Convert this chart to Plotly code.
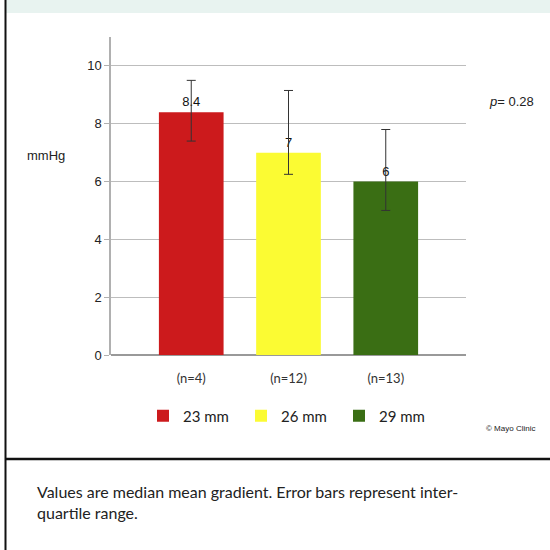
import plotly.graph_objects as go

# Valve size groups and their median mean gradients (mmHg)
sizes = ["23 mm", "26 mm", "29 mm"]
group_labels = ["(n=4)", "(n=12)", "(n=13)"]
medians = [8.4, 7, 6]
q3 = [9.5, 9.15, 7.8]
q1 = [7.4, 6.25, 5.0]
colors = ["#cc1a1c", "#fbfb33", "#3a6e14"]
y_ticks = [0, 2, 4, 6, 8, 10]

W, H = 550, 550
L, R, T, B = 111, 84, 37, 195
PW, PH = W - L - R, H - T - B


def px(xp):
    return (xp - L) / PW


def py(yp):
    return (H - B - yp) / PH


fig = go.Figure()
for i, (name, m, hi, lo, c) in enumerate(zip(sizes, medians, q3, q1, colors)):
    fig.add_trace(go.Bar(
        x=[i], y=[m], name=name,
        marker=dict(color=c, line=dict(width=0)),
        width=0.665,
        text=[m], texttemplate="%{y}", textposition="outside",
        textfont=dict(family="Liberation Sans, Arial", size=13, color="#111"),
        cliponaxis=False,
        error_y=dict(type="data", symmetric=False,
                     array=[hi - m], arrayminus=[m - lo],
                     color="#333", thickness=1, width=4.5),
    ))

fig.update_layout(
    width=W, height=H,
    margin=dict(l=L, r=R, t=T, b=B),
    paper_bgcolor="white", plot_bgcolor="white",
    barmode="overlay",
    font=dict(family="Liberation Sans, Arial", size=12, color="#222"),
    xaxis=dict(
        range=[-0.825, 2.825], tickmode="array",
        tickvals=[0, 1, 2], ticktext=group_labels,
        showgrid=False, showline=False, zeroline=False, ticks="",
        tickfont=dict(family="Lato", size=13, color="#333"),
        ticklabelstandoff=14,
    ),
    yaxis=dict(
        range=[0, 11], tickvals=y_ticks,
        showgrid=True, gridcolor="#bdbdbd", gridwidth=1,
        showline=True, linecolor="#b0b0b0", linewidth=1.5,
        zeroline=True, zerolinecolor="#999", zerolinewidth=1.5,
        ticks="outside", ticklen=5, tickcolor="#b0b0b0",
        tickfont=dict(family="Liberation Sans, Arial", size=13, color="#222"),
    ),
    showlegend=True,
    legend=dict(
        orientation="h", x=px(143), xanchor="left",
        y=py(416), yanchor="middle",
        font=dict(family="Lato", size=15, color="#222"),
        entrywidth=53, itemclick=False,
        bgcolor="rgba(0,0,0,0)",
    ),
)

shapes = [
    # light band at the top
    dict(type="rect", xref="paper", yref="paper",
         x0=px(6), x1=px(551), y0=py(13), y1=py(-1),
         fillcolor="#e8f3f0", line=dict(width=0), layer="below"),
    # left frame border
    dict(type="line", xref="paper", yref="paper",
         x0=px(5.5), x1=px(5.5), y0=py(-2), y1=py(552),
         line=dict(color="#111", width=2)),
    # divider above the footnote
    dict(type="line", xref="paper", yref="paper",
         x0=px(5), x1=px(552), y0=py(459), y1=py(459),
         line=dict(color="#111", width=2.5)),
]
fig.update_layout(shapes=shapes)

annotations = [
    dict(text="mmHg", x=px(25), y=py(155), xref="paper", yref="paper",
         xanchor="left", yanchor="middle", showarrow=False,
         font=dict(family="Liberation Sans, Arial", size=13, color="#222")),
    dict(text="<i>p</i>= 0.28", x=px(487), y=py(102), xref="paper", yref="paper",
         xanchor="left", yanchor="middle", showarrow=False,
         font=dict(family="Liberation Sans, Arial", size=13, color="#222")),
    dict(text="© Mayo Clinic", x=px(537), y=py(428), xref="paper", yref="paper",
         xanchor="right", yanchor="middle", showarrow=False,
         font=dict(family="Liberation Sans, Arial", size=8, color="#222")),
    dict(text="Values are median mean gradient. Error bars represent inter-<br>quartile range.",
         x=px(35), y=py(480), xref="paper", yref="paper",
         xanchor="left", yanchor="top", align="left", showarrow=False,
         font=dict(family="Lato", size=16, color="#222")),
]
fig.update_layout(annotations=annotations)

fig.write_html("out.html")
